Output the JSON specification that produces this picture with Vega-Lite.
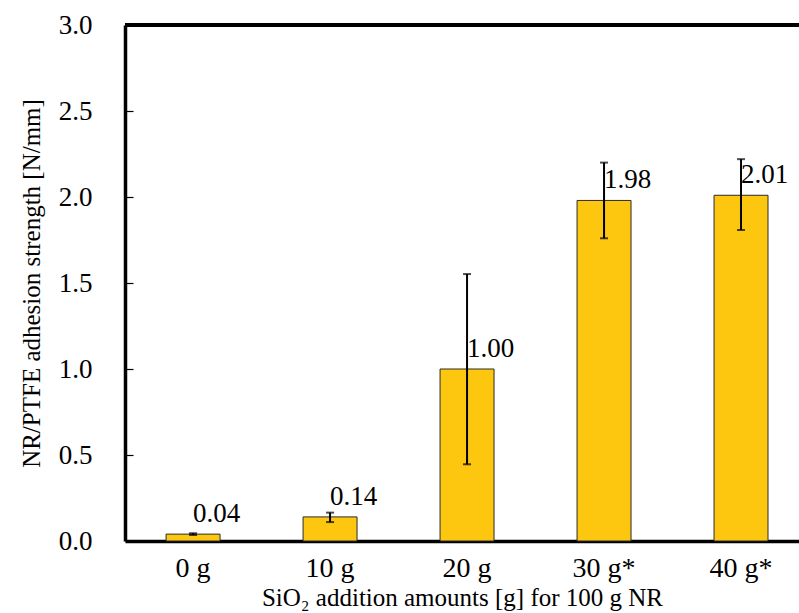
{
  "$schema": "https://vega.github.io/schema/vega-lite/v6.json",
  "autosize": {"type": "none"},
  "width": 674,
  "height": 516,
  "padding": {"left": 125, "top": 25, "right": 0, "bottom": 72},
  "background": "white",
  "config": {
    "view": {"stroke": null},
    "font": "Liberation Serif, Times New Roman, serif",
    "axis": {"grid": false, "labelFont": "Liberation Serif, Times New Roman, serif", "titleFont": "Liberation Serif, Times New Roman, serif", "labelColor": "black", "titleColor": "black", "titleFontWeight": "normal", "domainColor": "black", "tickColor": "black"}
  },
  "data": {"values": [
    {"label": "0 g", "value": 0.04, "lo": 0.035, "hi": 0.045, "txt": "0.04"},
    {"label": "10 g", "value": 0.14, "lo": 0.11, "hi": 0.165, "txt": "0.14"},
    {"label": "20 g", "value": 1.00, "lo": 0.446, "hi": 1.552, "txt": "1.00"},
    {"label": "30 g*", "value": 1.98, "lo": 1.76, "hi": 2.20, "txt": "1.98"},
    {"label": "40 g*", "value": 2.01, "lo": 1.808, "hi": 2.22, "txt": "2.01"}
  ]},
  "layer": [
    {"mark": {"type": "bar", "color": "#FDC70F", "stroke": "#2a2a2a", "strokeWidth": 1},
     "encoding": {
       "x": {"field": "label", "type": "nominal", "sort": null,
         "scale": {"paddingInner": 0.606, "paddingOuter": 0.263, "align": 0.57},
         "axis": {"title": "SiO₂ addition amounts [g] for 100 g NR", "labelAngle": 0, "ticks": false, "labelPadding": 13, "labelFontSize": 28, "titleFontSize": 25, "titlePadding": 3, "domainWidth": 3.5}},
       "y": {"field": "value", "type": "quantitative",
        "scale": {"domain": [0, 3], "nice": false},
        "axis": {"title": "NR/PTFE adhesion strength [N/mm]", "values": [0, 0.5, 1, 1.5, 2, 2.5, 3], "format": ".1f", "labelFontSize": 27, "titleFontSize": 25, "tickSize": -8, "tickWidth": 1.2, "labelPadding": 41, "titlePadding": 14, "domainWidth": 3.5}}}},
    {"mark": {"type": "rule", "color": "black", "strokeWidth": 2},
     "encoding": {"x": {"field": "label", "type": "nominal", "sort": null}, "y": {"field": "lo", "type": "quantitative"}, "y2": {"field": "hi"}}},
    {"mark": {"type": "tick", "color": "black", "thickness": 2, "size": 8},
     "encoding": {"x": {"field": "label", "type": "nominal", "sort": null}, "y": {"field": "lo", "type": "quantitative"}}},
    {"mark": {"type": "tick", "color": "black", "thickness": 2, "size": 8},
     "encoding": {"x": {"field": "label", "type": "nominal", "sort": null}, "y": {"field": "hi", "type": "quantitative"}}},
    {"mark": {"type": "text", "align": "left", "baseline": "alphabetic", "dy": -12, "dx": 0, "fontSize": 27, "font": "Liberation Serif, Times New Roman, serif", "color": "black"},
     "encoding": {"x": {"field": "label", "type": "nominal", "sort": null}, "y": {"field": "value", "type": "quantitative"}, "text": {"field": "txt"}}},
    {"mark": {"type": "rule", "color": "black", "strokeWidth": 3.5},
     "encoding": {"y": {"datum": 3}}}
  ]
}
